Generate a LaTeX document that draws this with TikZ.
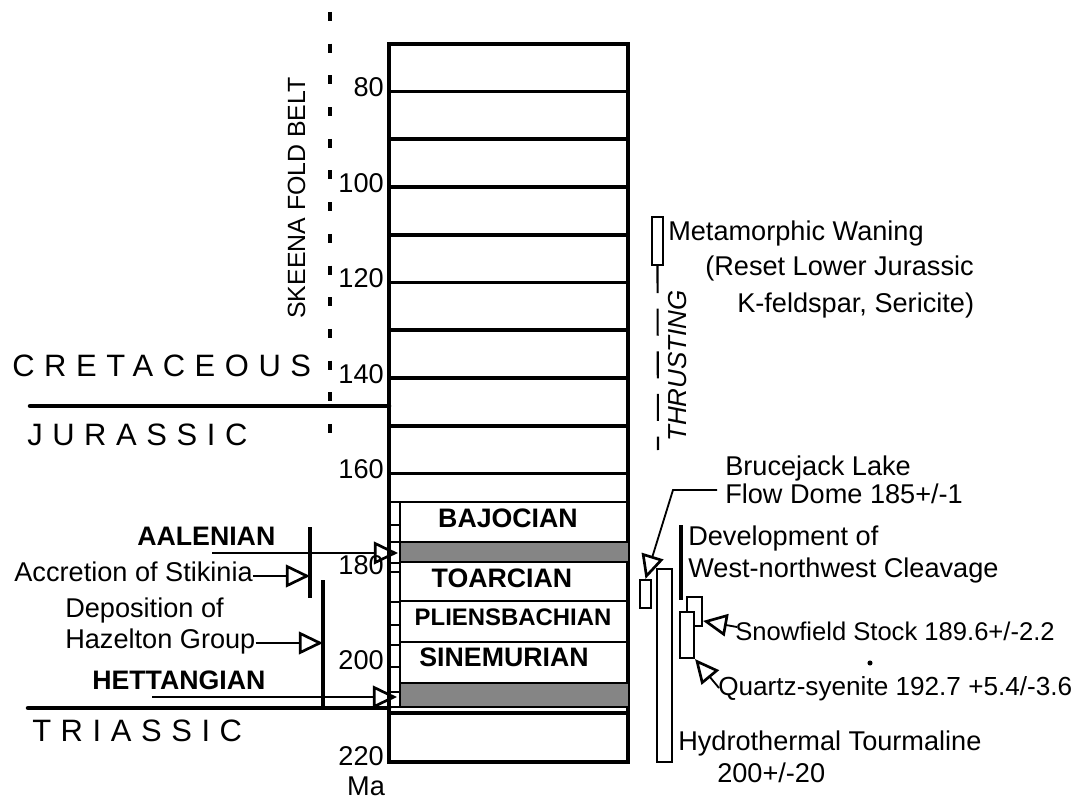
\documentclass[tikz,border=0pt]{standalone}
\usepackage{fontspec}
\setmainfont{Liberation Sans}
\usetikzlibrary{arrows.meta, positioning}
\definecolor{trame}{HTML}{858585}

\begin{document}
\begin{tikzpicture}[x=0.025cm, y=-0.025cm,
    txt/.style={inner sep=0pt, text height=0.72em, text depth=0pt, font=\fontsize{19.3}{23}\selectfont},
    etage/.style={inner sep=0pt, text height=0.72em, text depth=0pt, font=\fontsize{19}{22}\selectfont\bfseries},
    ere/.style={inner sep=0pt, text height=0.72em, text depth=0pt, anchor=west,
      font=\fontsize{22}{26}\selectfont\addfontfeature{LetterSpace=31}},
    fleche/.style={line width=1.3pt, -{Triangle[open, length=6mm, width=5.6mm, line width=1.9pt]}},
    barre/.style={line width=3pt},
    boite/.style={draw, line width=1.5pt, fill=white, inner sep=0pt}]
    \useasboundingbox (0,0) rectangle (1072,807);

    % colonne des temps
    \draw[line width=2.8pt] (389,44) rectangle (628,762);
    \foreach \m in {80,90,...,160} {
      \draw[line width=2.5pt] (389,{91.5+(\m-80)*4.775}) -- (628,{91.5+(\m-80)*4.775});
    }
    \foreach \m in {80,100,...,220} {
      \node[txt, anchor=east] (age\m) at (384,{91.5+(\m-80)*4.775}) {\m};
    }
    \node[txt] (ma) at (366,790) {Ma};

    % etages
    \fill[trame] (400,542) rectangle (628,562);
    \fill[trame] (400,683) rectangle (628,707);
    \draw[line width=1.4pt] (389,502) -- (628,502);
    \foreach \y in {542,562,601,642,683,707} {
      \draw[line width=1.7pt] (400,\y) -- (628,\y);
    }
    \draw[line width=2.4pt] (389,713) -- (628,713);
    \draw[line width=1.5pt] (400,502) -- (400,707);
    \foreach \y in {502,525,542,563,572,602,625,645,667,692,707} {
      \draw[line width=1.7pt] (389,\y) -- (400,\y);
    }
    \node[etage] (bajo) at (508,522) {BAJOCIAN};
    \node[etage] (toar) at (502,582) {TOARCIAN};
    \node[etage, font=\fontsize{17}{20}\selectfont\bfseries] (plie) at (513,620) {PLIENSBACHIAN};
    \node[etage] (sine) at (504,661) {SINEMURIAN};

    % periodes
    \draw[line width=3.2pt, line cap=round] (30,406) -- (389,406);
    \draw[line width=3.2pt, line cap=round] (28,708) -- (389,708);
    \node[ere] (cret) at (12,371) {CRETACEOUS};
    \node[ere] (jura) at (27,440) {JURASSIC};
    \node[ere] (tria) at (32,736) {TRIASSIC};

    \draw[line width=3pt, dash pattern=on 0.225cm off 0.567cm] (330,12) -- (330,440);
    \node[txt, font=\fontsize{17.7}{21}\selectfont, rotate=90] (skeena) at (300,198) {SKEENA FOLD BELT};

    % evenements a gauche
    \node[etage, anchor=west] (aal) at (137,540) {AALENIAN};
    \coordinate (aalpied) at (212,553);
    \coordinate (aalpointe) at (398,553);
    \draw[fleche] (aalpied) -- (aalpointe);
    \coordinate (stikbar) at (310,527);
    \draw[barre] (stikbar) -- (310,598);
    \node[txt, anchor=east] (stik) at (253,576) {Accretion of Stikinia};
    \draw[fleche] (stik.east) -- (stik.east -| stikbar);
    \coordinate (hazbar) at (323,580);
    \draw[barre] (hazbar) -- (323,708);
    \node[txt, anchor=west] (depo) at (65,612) {Deposition of};
    \node[txt, anchor=west] (haz) at (65,643) {Hazelton Group};
    \draw[fleche] (haz.east) -- (haz.east -| hazbar);
    \node[etage, anchor=west] (hett) at (92,684) {HETTANGIAN};
    \coordinate (hettpied) at (152,697);
    \coordinate (hettpointe) at (397,697);
    \draw[fleche] (hettpied) -- (hettpointe);

    % evenements a droite
    \node[boite, minimum width=0.275cm, minimum height=1.2cm] (meta) at (657.5,241) {};
    \coordinate (chevauch) at (658,450);
    \draw[line width=1.5pt, dash pattern=on 0.675cm off 0.39cm] (meta.south) -- (chevauch);
    \node[txt, font=\fontsize{18.5}{22}\selectfont\itshape, rotate=90] (thrust) at (681,366) {THRUSTING};
    \node[txt, anchor=west] (meta1) at (668,235) {Metamorphic Waning};
    \node[txt, anchor=west] (meta2) at (705,270) {(Reset Lower Jurassic};
    \node[txt, anchor=west] (meta3) at (737,307) {K-feldspar, Sericite)};

    \node[boite, minimum width=0.375cm, minimum height=4.825cm] (tourm) at (664.5,665.5) {};
    \node[boite, minimum width=0.275cm, minimum height=0.7cm] (dome) at (645.5,594) {};
    \node[txt, anchor=west] (bruce) at (725,470) {Brucejack Lake};
    \node[txt, anchor=west] (flow) at (725,498) {Flow Dome 185+/-1};
    \coordinate (domepied) at (717,490);
    \draw[fleche] (domepied) -- (673,490) -- (dome.north);

    \draw[barre] (681,525) -- (681,600);
    \node[txt, anchor=west] (dev1) at (688,540) {Development of};
    \node[txt, anchor=west] (dev2) at (688,572) {West-northwest Cleavage};

    \node[boite, minimum width=0.375cm, minimum height=0.725cm] (snow) at (694.5,611.5) {};
    \node[boite, minimum width=0.35cm, minimum height=1.15cm] (qtz) at (687,635) {};
    \node[txt, anchor=west, font=\fontsize{18.2}{22}\selectfont] (snowtxt) at (735,635) {Snowfield Stock 189.6+/-2.2};
    \coordinate (snowpied) at (737,627);
    \draw[fleche] (snowpied) -- ([yshift=-6.7pt]snow.east);
    \fill (870,663) circle (1.8pt);
    \node[txt, anchor=west, font=\fontsize{18.6}{22}\selectfont] (qtztxt) at (718,690) {Quartz-syenite 192.7 +5.4/-3.6};
    \coordinate (qtzpied) at (719,688);
    \draw[fleche] (qtzpied) -- (qtz.south east);

    \node[txt, anchor=west] (tour1) at (678,745) {Hydrothermal Tourmaline};
    \node[txt, anchor=west] (tour2) at (717,777) {200+/-20};
  \end{tikzpicture}
\end{document}
